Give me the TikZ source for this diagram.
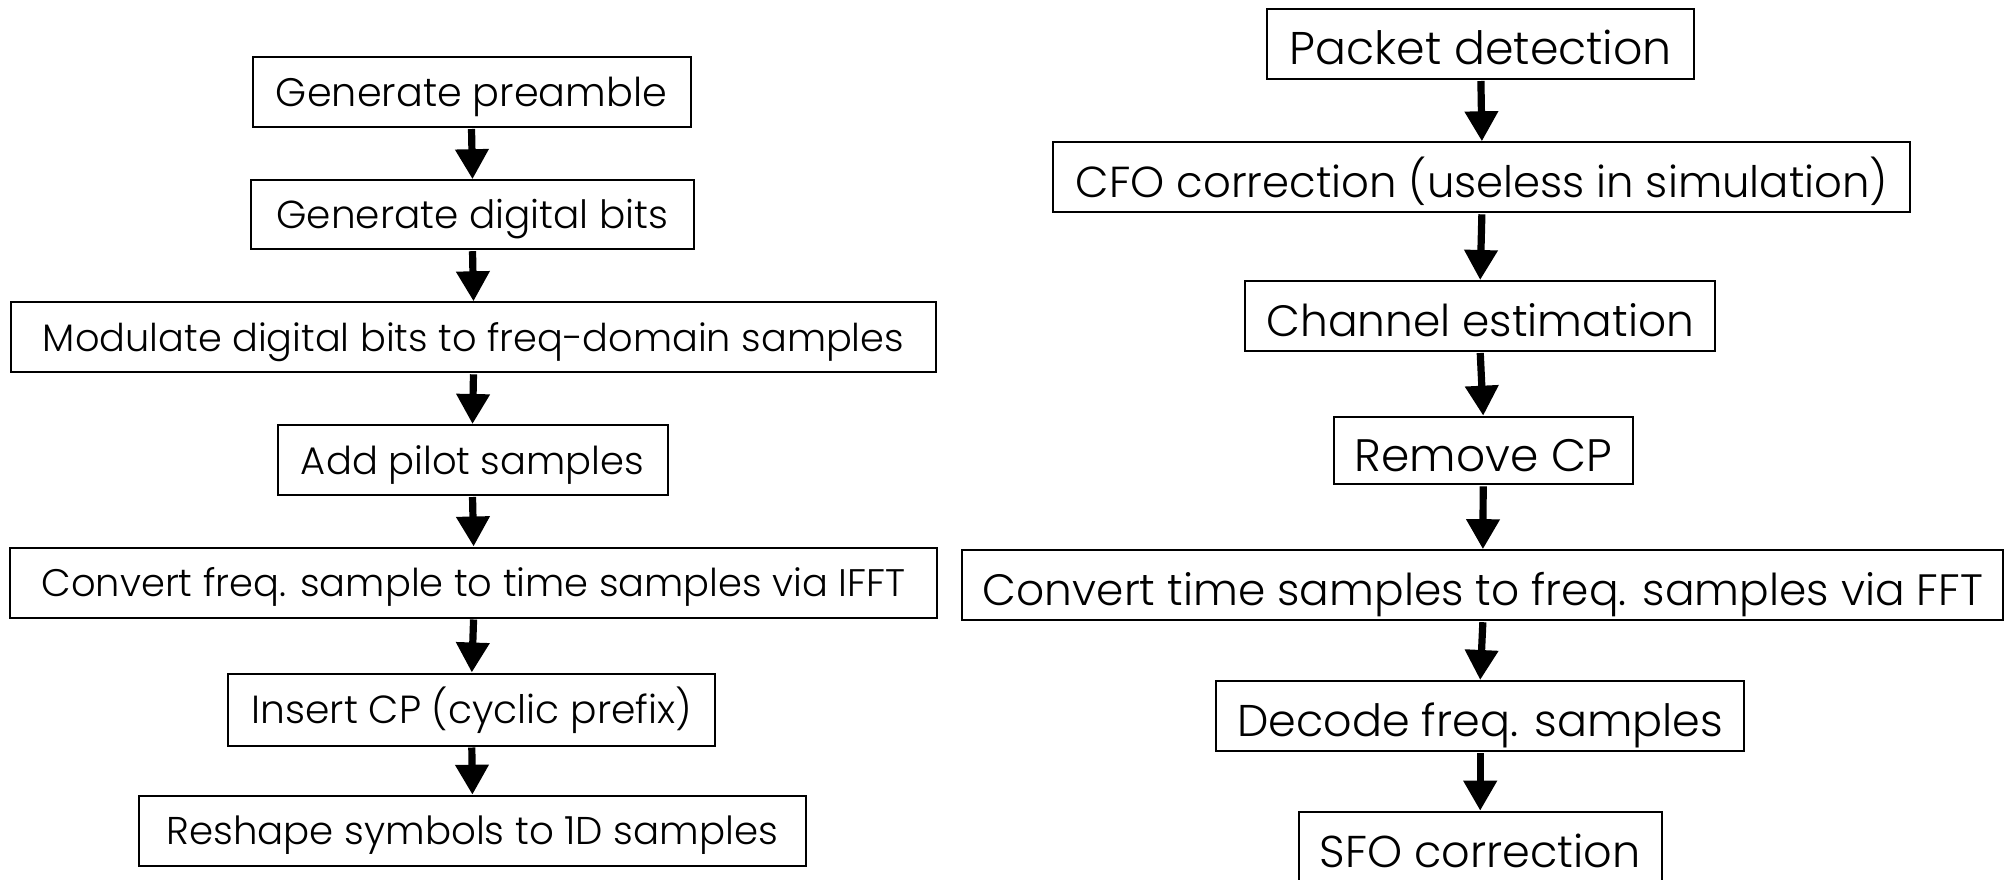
\documentclass[tikz,border=0pt]{standalone}
\usepackage{fontspec}
\setmainfont{Poppins Light}
\usetikzlibrary{arrows.meta}
\newcommand\fitw[2]{\resizebox{#1}{!}{#2}}
\tikzset{
  stage/.style={draw=black, line width=1pt, inner sep=0pt, align=center,
    minimum height=35pt, text depth=0pt},
  lstage/.style={stage, text height=14pt},
  rstage/.style={stage, text height=20.5pt},
  flow/.style={line width=3.6pt, -{Triangle[length=15pt,width=16pt]}, shorten <=0.5pt}
}
\begin{document}
\begin{tikzpicture}[x=0.5pt, y=-0.5pt]
\useasboundingbox (0,0) rectangle (2009,879);

% transmitter chain
\node[lstage, minimum width=219pt] (t1) at (471.5,92) {\fitw{195.5pt}{Generate preamble}};
\node[lstage, minimum width=221.5pt, minimum height=34.5pt] (t2) at (472.5,214.7) {\fitw{196pt}{Generate digital bits}};
\node[lstage, minimum width=462.5pt] (t3) at (473.5,337.3) {\fitw{430.5pt}{Modulate digital bits to freq-domain samples}};
\node[lstage, minimum width=195pt] (t4) at (472.5,460) {\fitw{171.5pt}{Add pilot samples}};
\node[lstage, minimum width=463.5pt] (t5) at (473.6,582.5) {\fitw{432pt}{Convert freq. sample to time samples via IFFT}};
\node[lstage, minimum width=243.5pt, minimum height=36pt] (t6) at (471.8,709.5) {\fitw{220pt}{Insert CP (cyclic prefix)}};
\node[lstage, minimum width=333.5pt] (t7) at (472.4,830.7) {\fitw{305.8pt}{Reshape symbols to 1D samples}};

% receiver chain
\node[rstage, minimum width=213.5pt] (r1) at (1480.9,44) {\fitw{191pt}{Packet detection}};
\node[rstage, minimum width=428.5pt] (r2) at (1481.9,177.3) {\fitw{406pt}{CFO correction (useless in simulation)}};
\node[rstage, minimum width=235pt] (r3) at (1480.2,316) {\fitw{213.8pt}{Channel estimation}};
\node[rstage, minimum width=149.5pt, minimum height=33.8pt] (r4) at (1483.2,450.5) {\fitw{128.5pt}{Remove CP}};
\node[rstage, minimum width=520.5pt] (r5) at (1482.9,585.2) {\fitw{500pt}{Convert time samples to freq. samples via FFT}};
\node[rstage, minimum width=264pt] (r6) at (1480.2,716) {\fitw{243pt}{Decode freq. samples}};
\node[rstage, minimum width=181.5pt] (r7) at (1480.2,846.7) {\fitw{160.5pt}{SFO correction}};

\foreach \a/\b in {t1/t2,t2/t3,t3/t4,t4/t5,t5/t6,t6/t7,r1/r2,r2/r3,r3/r4,r4/r5,r5/r6,r6/r7}
  \draw[flow] (\a.south) -- (\b.north);
\end{tikzpicture}
\end{document}
